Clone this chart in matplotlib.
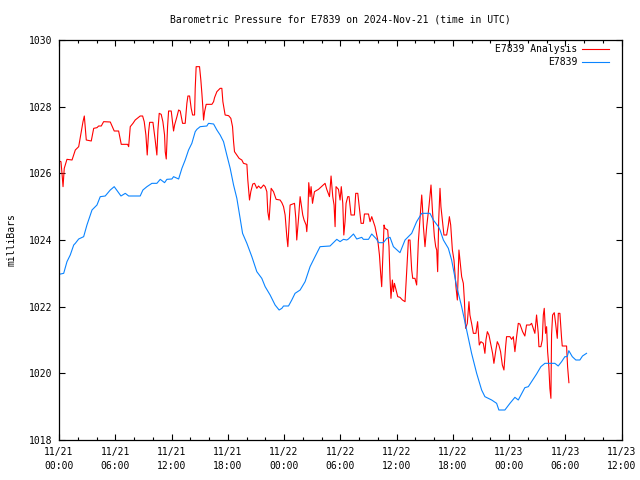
import matplotlib
matplotlib.use("Agg")
import matplotlib.pyplot as plt
from matplotlib.ticker import MultipleLocator

# hours since 2024-11-21 00:00 UTC
analysis_hours = [0.00, 0.21, 0.32, 0.43, 0.56, 0.85, 1.39, 1.74, 2.10, 2.34, 2.56, 2.70, 2.91, 3.44, 3.70,
                  4.05, 4.23, 4.51, 4.76, 5.47, 5.89, 6.36, 6.64, 7.32, 7.43, 7.60, 7.89, 8.13, 8.66, 8.92,
                  9.09, 9.27, 9.41, 9.56, 9.67, 10.02, 10.26, 10.44, 10.55, 10.69, 10.90, 11.08, 11.26, 11.33,
                  11.44, 11.58, 11.69, 11.97, 12.12, 12.22, 12.33, 12.58, 12.76, 12.93, 13.11, 13.18, 13.46,
                  13.64, 13.75, 13.93, 14.10, 14.25, 14.46, 14.53, 14.63, 14.99, 15.13, 15.24, 15.35, 15.42,
                  15.53, 15.70, 16.31, 16.49, 16.59, 16.84, 17.19, 17.37, 17.48, 17.72, 18.09, 18.33, 18.51,
                  18.62, 18.72, 18.97, 19.21, 19.50, 19.68, 20.04, 20.14, 20.32, 20.46, 20.67, 20.86, 21.10,
                  21.28, 21.53, 21.82, 21.99, 22.17, 22.27, 22.41, 22.52, 22.63, 22.88, 23.16, 23.58, 23.77,
                  23.95, 24.12, 24.30, 24.41, 24.54, 24.65, 25.12, 25.26, 25.36, 25.55, 25.72, 25.82, 26.00,
                  26.14, 26.36, 26.43, 26.54, 26.64, 26.78, 26.89, 27.04, 27.25, 27.68, 28.38, 28.56, 28.85,
                  29.02, 29.20, 29.34, 29.45, 29.55, 29.81, 29.98, 30.11, 30.27, 30.38, 30.51, 30.62, 30.80,
                  30.94, 31.15, 31.51, 31.65, 31.87, 32.05, 32.22, 32.47, 32.58, 33.01, 33.18, 33.36, 33.54,
                  33.71, 34.00, 34.18, 34.31, 34.42, 34.53, 34.67, 34.77, 35.06, 35.20, 35.31, 35.41, 35.56,
                  35.67, 35.78, 35.95, 36.13, 36.37, 36.63, 36.91, 37.09, 37.27, 37.44, 37.62, 37.73, 37.97,
                  38.15, 38.33, 38.50, 38.69, 38.76, 38.87, 39.04, 39.22, 39.46, 39.68, 39.83, 40.04, 40.18,
                  40.29, 40.39, 40.50, 40.64, 40.74, 40.89, 41.06, 41.35, 41.53, 41.64, 41.78, 41.96, 42.13,
                  42.34, 42.49, 42.66, 42.77, 42.95, 43.13, 43.24, 43.37, 43.55, 43.73, 43.83, 44.01, 44.20,
                  44.47, 44.65, 44.83, 45.00, 45.26, 45.43, 45.54, 45.69, 45.86, 46.04, 46.25, 46.39, 46.60,
                  46.75, 46.92, 47.10, 47.29, 47.46, 47.64, 47.74, 48.10, 48.28, 48.46, 48.63, 48.81, 48.99,
                  49.16, 49.45, 49.69, 49.87, 50.23, 50.41, 50.59, 50.76, 50.94, 51.12, 51.19, 51.40, 51.55,
                  51.66, 51.76, 51.90, 52.01, 52.12, 52.25, 52.36, 52.47, 52.54, 52.65, 52.83, 52.97, 53.15,
                  53.26, 53.43, 53.61, 53.68, 54.14, 54.25, 54.39]
analysis_mbar = [1026.37, 1026.35, 1026.00, 1025.60, 1026.15, 1026.42, 1026.40, 1026.70, 1026.80, 1027.20,
                 1027.55, 1027.72, 1027.00, 1026.97, 1027.35, 1027.37, 1027.42, 1027.42, 1027.55, 1027.54,
                 1027.27, 1027.27, 1026.87, 1026.87, 1026.80, 1027.40, 1027.50, 1027.60, 1027.72, 1027.72,
                 1027.55, 1027.15, 1026.55, 1027.25, 1027.53, 1027.53, 1027.00, 1026.55, 1027.30, 1027.80,
                 1027.77, 1027.55, 1027.15, 1026.65, 1026.43, 1027.40, 1027.87, 1027.87, 1027.50, 1027.27,
                 1027.45, 1027.70, 1027.90, 1027.87, 1027.60, 1027.50, 1027.50, 1028.10, 1028.32, 1028.32,
                 1027.95, 1027.75, 1027.75, 1028.55, 1029.20, 1029.20, 1028.80, 1028.40, 1027.95, 1027.60,
                 1027.85, 1028.07, 1028.07, 1028.15, 1028.27, 1028.45, 1028.55, 1028.55, 1028.15, 1027.75,
                 1027.73, 1027.65, 1027.40, 1026.95, 1026.65, 1026.55, 1026.45, 1026.40, 1026.30, 1026.27,
                 1025.80, 1025.20, 1025.45, 1025.68, 1025.70, 1025.55, 1025.62, 1025.55, 1025.65, 1025.60,
                 1025.45, 1024.85, 1024.60, 1025.10, 1025.55, 1025.45, 1025.22, 1025.20, 1025.12, 1025.00,
                 1024.75, 1024.10, 1023.80, 1024.50, 1025.05, 1025.10, 1024.65, 1024.00, 1024.65, 1025.30,
                 1025.10, 1024.75, 1024.60, 1024.45, 1024.25, 1024.70, 1025.72, 1025.30, 1025.60, 1025.10,
                 1025.45, 1025.52, 1025.70, 1025.52, 1025.30, 1025.92, 1025.30, 1025.05, 1024.40, 1025.60,
                 1025.52, 1025.20, 1025.60, 1025.10, 1024.15, 1024.55, 1025.10, 1025.30, 1025.30, 1024.75,
                 1024.75, 1025.40, 1025.40, 1024.95, 1024.50, 1024.50, 1024.78, 1024.78, 1024.55, 1024.70,
                 1024.55, 1024.40, 1024.00, 1023.55, 1023.00, 1022.60, 1023.40, 1024.45, 1024.35, 1024.30,
                 1023.80, 1022.85, 1022.25, 1022.80, 1022.45, 1022.70, 1022.50, 1022.30, 1022.28, 1022.20,
                 1022.15, 1023.10, 1024.00, 1024.00, 1023.10, 1022.85, 1022.85, 1022.65, 1023.95, 1024.60,
                 1025.35, 1025.05, 1024.40, 1023.80, 1024.40, 1025.00, 1025.65, 1024.90, 1024.10, 1023.80,
                 1023.70, 1023.05, 1024.60, 1025.55, 1025.00, 1024.60, 1024.15, 1024.15, 1024.45, 1024.70,
                 1024.45, 1023.70, 1023.40, 1022.60, 1022.20, 1023.70, 1023.40, 1022.90, 1022.70, 1022.20,
                 1021.35, 1021.50, 1022.15, 1021.75, 1021.50, 1021.20, 1021.20, 1021.55, 1020.85, 1020.95,
                 1020.90, 1020.60, 1021.00, 1021.25, 1021.15, 1020.90, 1020.60, 1020.30, 1020.70, 1020.95,
                 1020.85, 1020.65, 1020.25, 1020.10, 1020.80, 1021.10, 1021.10, 1021.02, 1021.10, 1020.65,
                 1021.10, 1021.50, 1021.48, 1021.25, 1021.12, 1021.45, 1021.45, 1021.50, 1021.35, 1021.20,
                 1021.75, 1021.20, 1020.80, 1020.80, 1021.00, 1021.75, 1021.95, 1021.20, 1021.40, 1020.65,
                 1020.20, 1019.55, 1019.25, 1021.15, 1021.75, 1021.82, 1021.50, 1021.05, 1021.80, 1021.80,
                 1021.05, 1020.82, 1020.82, 1020.20, 1019.72]

station_hours = [0.00, 0.50, 0.85, 1.20, 1.57, 1.74, 2.10, 2.63, 2.98, 3.52, 4.05, 4.40, 4.93, 5.47, 5.89,
                 6.61, 7.07, 7.43, 8.66, 8.95, 9.38, 9.91, 10.44, 10.80, 11.26, 11.51, 12.04, 12.22, 12.76,
                 13.11, 13.46, 13.82, 14.17, 14.53, 14.71, 15.06, 15.77, 15.95, 16.49, 16.84, 17.19, 17.55,
                 17.90, 18.26, 18.62, 18.97, 19.32, 19.58, 20.04, 20.57, 21.10, 21.63, 21.99, 22.52, 23.05,
                 23.48, 23.77, 23.95, 24.48, 24.83, 25.18, 25.72, 26.25, 26.78, 27.31, 27.85, 28.91, 29.27,
                 29.63, 29.98, 30.34, 30.69, 30.87, 31.41, 31.76, 32.29, 32.47, 33.01, 33.36, 33.89, 34.07,
                 34.60, 34.96, 35.31, 35.67, 36.37, 36.91, 37.62, 38.15, 38.69, 39.57, 39.93, 40.47, 40.64,
                 41.00, 41.53, 41.88, 42.42, 42.95, 43.48, 44.01, 44.55, 45.08, 45.43, 46.15, 46.68, 46.92,
                 47.56, 48.10, 48.63, 48.99, 49.69, 50.06, 50.94, 51.40, 51.83, 52.89, 53.25, 53.61, 53.96,
                 54.21, 54.38, 54.75, 55.13, 55.56, 55.84, 56.27]
station_mbar = [1022.97, 1023.00, 1023.35, 1023.55, 1023.85, 1023.90, 1024.03, 1024.10, 1024.45, 1024.90,
                1025.05, 1025.30, 1025.32, 1025.50, 1025.60, 1025.32, 1025.40, 1025.32, 1025.32, 1025.50,
                1025.60, 1025.70, 1025.70, 1025.82, 1025.72, 1025.82, 1025.83, 1025.90, 1025.83, 1026.15,
                1026.40, 1026.70, 1026.90, 1027.25, 1027.32, 1027.40, 1027.42, 1027.50, 1027.48, 1027.30,
                1027.15, 1026.95, 1026.55, 1026.15, 1025.65, 1025.25, 1024.65, 1024.20, 1023.90, 1023.50,
                1023.05, 1022.85, 1022.60, 1022.35, 1022.05, 1021.90, 1021.95, 1022.02, 1022.02, 1022.20,
                1022.40, 1022.50, 1022.75, 1023.20, 1023.50, 1023.80, 1023.82, 1023.92, 1024.02, 1023.95,
                1024.02, 1024.00, 1024.03, 1024.18, 1024.03, 1024.08, 1024.02, 1024.02, 1024.18, 1024.02,
                1023.92, 1023.92, 1024.05, 1024.08, 1023.80, 1023.62, 1024.00, 1024.20, 1024.55, 1024.80,
                1024.80, 1024.60, 1024.40, 1024.30, 1024.00, 1023.75, 1023.40, 1022.60, 1022.00, 1021.30,
                1020.60, 1020.00, 1019.50, 1019.30, 1019.20, 1019.10, 1018.90, 1018.90, 1019.10, 1019.28,
                1019.20, 1019.57, 1019.60, 1019.98, 1020.20, 1020.30, 1020.30, 1020.22, 1020.35, 1020.50,
                1020.50, 1020.68, 1020.50, 1020.40, 1020.40, 1020.52, 1020.60]

x_tick_hours = [0, 6, 12, 18, 24, 30, 36, 42, 48, 54, 60]
x_tick_labels = ["11/21\n00:00", "11/21\n06:00", "11/21\n12:00", "11/21\n18:00", "11/22\n00:00",
                 "11/22\n06:00", "11/22\n12:00", "11/22\n18:00", "11/23\n00:00", "11/23\n06:00",
                 "11/23\n12:00"]
y_ticks = [1018, 1020, 1022, 1024, 1026, 1028, 1030]

FONT = "DejaVu Sans Mono"
FS = 7

fig = plt.figure(figsize=(6.4, 4.8), dpi=100)
ax = fig.add_axes([59 / 640, 1 - 440 / 480, 562.5 / 640, 400 / 480])

ax.plot(analysis_hours, analysis_mbar, color="#ff0000", lw=0.8, label="E7839 Analysis")
ax.plot(station_hours, station_mbar, color="#0a84ff", lw=0.8, label="E7839")

ax.set_xlim(0, 60)
ax.set_ylim(1018, 1030)
ax.set_xticks(x_tick_hours)
ax.set_xticklabels(x_tick_labels, fontfamily=FONT, fontsize=FS, linespacing=1.5)
ax.xaxis.set_minor_locator(MultipleLocator(2))
ax.set_yticks(y_ticks)
ax.set_yticklabels([str(v) for v in y_ticks], fontfamily=FONT, fontsize=FS)

ax.tick_params(which="major", direction="in", length=4, width=0.8, top=True, right=True, pad=5)
ax.tick_params(which="minor", direction="in", length=2, width=0.8, top=True, right=False)
ax.tick_params(axis="y", which="minor", left=False, right=False)
for sp in ax.spines.values():
    sp.set_linewidth(0.9)

leg = ax.legend(loc="upper right", bbox_to_anchor=(0.978, 0.99), frameon=False, markerfirst=False,
                handlelength=2.8, handletextpad=0.5, labelspacing=0.35, borderpad=0, borderaxespad=0,
                prop={"family": FONT, "size": FS})

fig.text(340 / 640, 1 - 19 / 480, "Barometric Pressure for E7839 on 2024-Nov-21 (time in UTC)",
         ha="center", va="center", fontfamily=FONT, fontsize=FS)
fig.text(12 / 640, 0.5, "milliBars", rotation=90, ha="center", va="center", fontfamily=FONT, fontsize=FS)

fig.savefig("out.png", dpi=100)
